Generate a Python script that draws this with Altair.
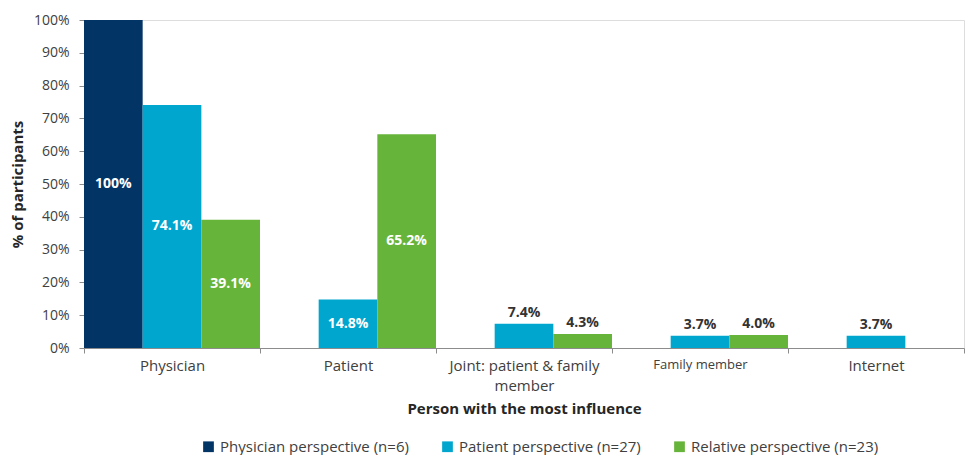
import altair as alt
import pandas as pd

categories = ["Physician", "Patient", "Joint: patient & family member", "Family member", "Internet"]
series = ["Physician perspective (n=6)", "Patient perspective (n=27)", "Relative perspective (n=23)"]
physician_vals = [100, None, None, None, None]
patient_vals = [74.1, 14.8, 7.4, 3.7, 3.7]
relative_vals = [39.1, 65.2, 4.3, 4.0, None]
colors = ["#023466", "#00A6CE", "#67B43A"]

rows = []
for s, vals in zip(series, [physician_vals, patient_vals, relative_vals]):
    for c, v in zip(categories, vals):
        if v is None:
            continue
        lab = "100%" if v == 100 else f"{v:.1f}%"
        rows.append({"category": c, "series": s, "value": v, "label": lab})
df = pd.DataFrame(rows)

FONT = "Open Sans"
GRAY = "#404040"

x_enc = alt.X(
    "category:N",
    sort=categories,
    scale=alt.Scale(paddingInner=0, paddingOuter=0),
    axis=alt.Axis(
        title="Person with the most influence",
        titleFontWeight="bold",
        titleFontSize=15,
        titleColor="#262626",
        titlePadding=8,
        labelAngle=0,
        labelFontSize={"condition": {"test": "datum.label == 'Family member'", "value": 13}, "value": 15},
        labelColor=GRAY,
        labelExpr="datum.label == 'Joint: patient & family member' ? ['Joint: patient & family', 'member'] : datum.label",
        labelLineHeight=20,
        labelPadding=5,
        labelBaseline="top",
        labelLimit=0,
        tickBand="extent",
        tickSize=5,
        tickColor="#8c8c8c",
        domainColor="#8c8c8c",
    ),
)
xo_enc = alt.XOffset("series:N", sort=series, scale=alt.Scale(domain=series, paddingInner=0, paddingOuter=0))

y_axis = alt.Axis(
    title="% of participants",
    titleFontWeight="bold",
    titleFontSize=15,
    titleColor="#262626",
    titlePadding=8,
    values=list(range(0, 101, 10)),
    labelExpr="datum.value + '%'",
    labelFontSize=14,
    labelColor=GRAY,
    labelPadding=10,
    grid=False,
    tickSize=5,
    tickColor="#8c8c8c",
    domainColor="#8c8c8c",
)
y_scale = alt.Scale(domain=[0, 100])

base = alt.Chart(df).encode(x=x_enc, xOffset=xo_enc)

bars = base.mark_bar().encode(
    y=alt.Y("value:Q", scale=y_scale, axis=y_axis),
    color=alt.Color(
        "series:N",
        sort=series,
        scale=alt.Scale(domain=series, range=colors),
        legend=alt.Legend(
            title=None,
            orient="none",
            legendX=117,
            legendY=419,
            direction="horizontal",
            symbolType="square",
            symbolSize=115,
            symbolStrokeWidth=0,
            labelFontSize=15,
            labelColor=GRAY,
            labelLimit=0,
            columnPadding=31,
            labelOffset=4,
        ),
    ),
)

inside = base.transform_filter("datum.value >= 10").transform_calculate(mid="datum.value / 2").mark_text(
    color="white", fontWeight="bold", fontSize=14, font=FONT
).encode(y=alt.Y("mid:Q", scale=y_scale, axis=y_axis), text="label:N")

outside = base.transform_filter("datum.value < 10").mark_text(
    color="#333333", fontWeight="bold", fontSize=14, font=FONT, dy=-11
).encode(y=alt.Y("value:Q", scale=y_scale, axis=y_axis), text="label:N")

chart = (
    alt.layer(bars, inside, outside)
    .properties(width=880, height=328, padding={"left": 2, "top": 5, "right": 0, "bottom": 0})
    .configure_view(stroke=None)
    .configure(font=FONT)
)

chart.save("out.html", embed_options={"renderer": "svg", "actions": False})
